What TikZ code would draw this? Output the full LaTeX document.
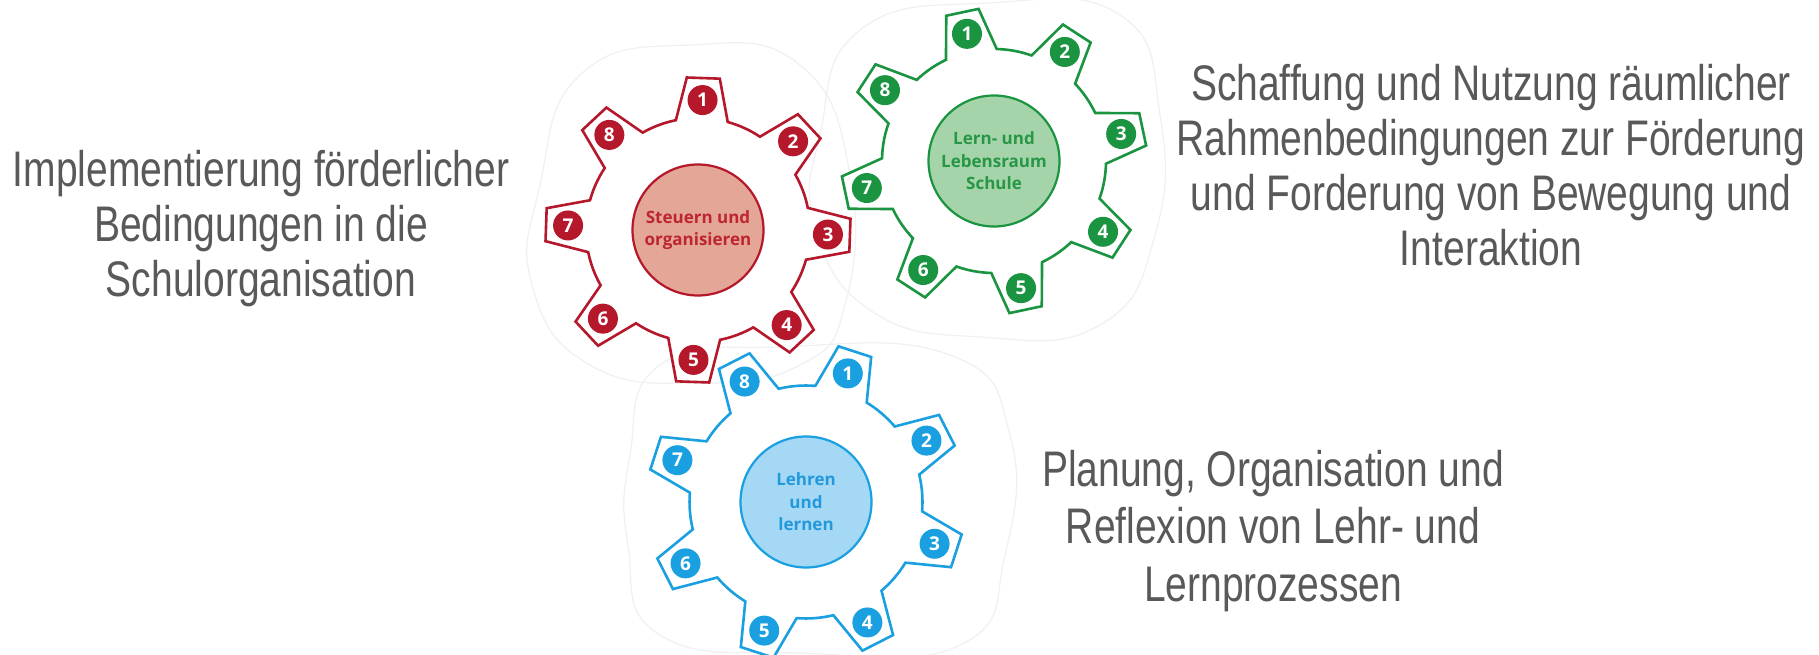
\documentclass[tikz,border=0pt]{standalone}
\usepackage{fontspec}
\setmainfont{Liberation Sans}
\newfontfamily\capfont{Liberation Sans}[FakeStretch=0.78]
\newfontfamily\hubfont{Open Sans}
\definecolor{capgrey}{HTML}{595959}
\definecolor{redline}{HTML}{B5172B}
\definecolor{redfill}{HTML}{E3A697}
\definecolor{redtext}{HTML}{BD2530}
\definecolor{greenline}{HTML}{1A9440}
\definecolor{greenfill}{HTML}{A6D4AA}
\definecolor{greentext}{HTML}{279746}
\definecolor{blueline}{HTML}{1AA0E0}
\definecolor{bluefill}{HTML}{A4D8F5}
\definecolor{bluetext}{HTML}{2399DB}
\definecolor{haze}{HTML}{F0F0F0}

\tikzset{
  gearline/.style={line width=2.6pt, line join=miter},
  badge/.style={circle, inner sep=0pt, minimum size=30pt, text=white,
    font=\hubfont\bfseries\fontsize{19}{19}\selectfont},
  hub/.style={circle, line width=2.2pt, minimum size=131pt, inner sep=0pt,
    align=center, font=\hubfont\bfseries\fontsize{17}{22.5}\selectfont},
  caption/.style={align=center, text=capgrey,
    font=\capfont\fontsize{50}{55}\selectfont},
  halo/.style={draw=haze, line width=1.2pt}
}

% #1 centre, #2 angle of tooth 1, #3 scale, #4 line colour, #5 hub fill,
% #6 hub text colour, #7 name prefix, #8 hub text
\newcommand\cogwheel[8]{%
  \begin{scope}[shift={#1}, scale=#3]
    \draw[gearline, draw=#4, fill=white] ({#2+13.4}:112)
      \foreach \k [evaluate=\k as \a using #2-45*\k] in {0,...,7}{
        -- ({\a+6.2}:152.9) -- ({\a-6.2}:152.9) -- ({\a-13.4}:112)
        arc[start angle={\a-13.4}, end angle={\a-31.6}, radius=112]
      } -- cycle;
    \foreach \k [evaluate=\k as \a using #2-45*\k,
                 evaluate=\k as \n using int(\k+1)] in {0,...,7}{
      \node[badge, fill=#4] (#7\n) at ({\a}:130) {\n};
    }
    \node[hub, draw=#4, fill=#5, text=#6] (#7c) at (0,0) {#8};
  \end{scope}%
}

\begin{document}
\begin{tikzpicture}[x=1pt, y=1pt]
  \useasboundingbox (0,0) rectangle (1819,655);
  \fill[white] (0,0) rectangle (1819,655);

  % faint soft outlines behind the wheels
  \draw[halo] plot[smooth cycle, tension=0.8] coordinates {
    (540,470) (580,580) (690,610) (800,590) (850,480) (845,350)
    (800,290) (700,272) (590,290) (532,370)};
  \draw[halo] plot[smooth cycle, tension=0.8] coordinates {
    (820,520) (860,625) (990,652) (1120,640) (1160,540) (1155,420)
    (1100,330) (980,318) (870,345) (815,430)};
  \draw[halo] plot[smooth cycle, tension=0.8] coordinates {
    (630,200) (660,290) (780,308) (950,300) (1010,220) (1005,100)
    (960,10) (800,2) (660,20) (628,110)};

  % the three wheels
  \cogwheel{(698,425)}{88}{1}{redline}{redfill}{redtext}{r}
    {Steuern und\\organisieren}
  \cogwheel{(994,494)}{102}{1}{greenline}{greenfill}{greentext}{g}
    {Lern- und\\Lebensraum\\Schule}
  \cogwheel{(806,153)}{72}{1.04}{blueline}{bluefill}{bluetext}{b}
    {Lehren\\und\\lernen}

  % captions
  \node[caption] (capr) at (261,426.5)
    {Implementierung förderlicher\\Bedingungen in die\\Schulorganisation};
  \node[caption] (capg) at (1491,490)
    {Schaffung und Nutzung räumlicher\\Rahmenbedingungen zur Förderung\\und Forderung von Bewegung und\\Interaktion};
  \node[caption, font=\capfont\fontsize{50}{57.5}\selectfont] (capb) at (1273,124)
    {Planung, Organisation und\\Reflexion von Lehr- und\\Lernprozessen};
\end{tikzpicture}
\end{document}
